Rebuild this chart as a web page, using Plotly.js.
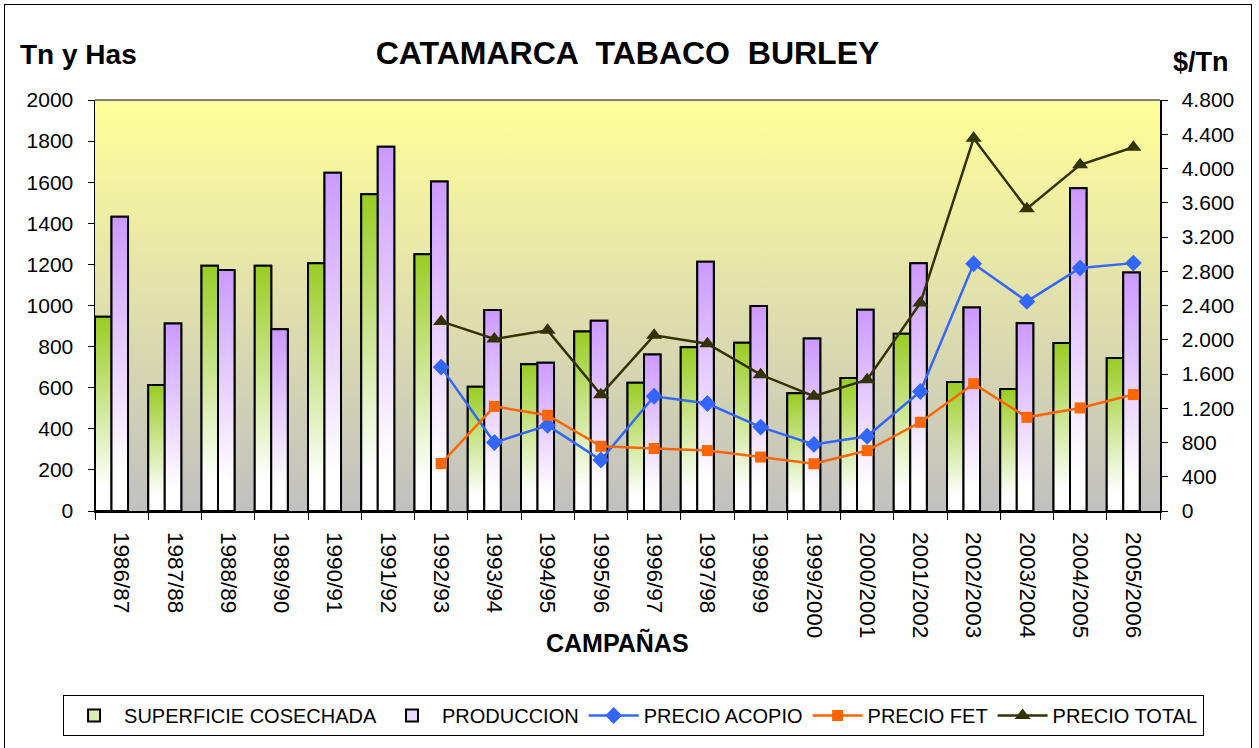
<!DOCTYPE html>
<html>
<head>
<meta charset="utf-8">
<script src="https://cdn.plot.ly/plotly-3.0.1.min.js"></script>
<style>
  html, body { margin: 0; padding: 0; background: #fff; }
  #wrap { position: relative; width: 1259px; height: 748px; overflow: hidden; }
  #chart { width: 1259px; height: 748px; }
  #frame { position: absolute; left: 4px; top: 4px; width: 1248px; height: 760px;
           border: 1px solid #000; box-sizing: border-box; pointer-events: none; }
</style>
</head>
<body>
<div id="wrap"><div id="chart"></div><div id="frame"></div></div>
<script>
// ---- data ----
const campanas = ["1986/87","1987/88","1988/89","1989/90","1990/91","1991/92","1992/93","1993/94",
  "1994/95","1995/96","1996/97","1997/98","1998/99","1999/2000","2000/2001","2001/2002",
  "2002/2003","2003/2004","2004/2005","2005/2006"];
const superficie = [945, 613, 1194, 1194, 1205, 1541, 1249, 605, 714, 873, 624, 797, 819, 573, 647, 862, 628, 594, 817, 744];
const produccion = [1432, 913, 1173, 884, 1646, 1773, 1603, 978, 722, 926, 762, 1213, 998, 839, 979, 1206, 990, 914, 1570, 1160];
const precioAcopio = [null, null, null, null, null, null, 1680, 800, 1000, 595, 1340, 1255, 980, 778, 873, 1395, 2887, 2448, 2838, 2895];
const precioFet    = [null, null, null, null, null, null, 555, 1222, 1118, 756, 730, 706, 630, 552, 706, 1036, 1487, 1094, 1204, 1360];
const precioTotal  = [null, null, null, null, null, null, 2214, 2009, 2110, 1359, 2052, 1954, 1592, 1340, 1534, 2429, 4353, 3530, 4043, 4248];

// ---- style ----
const FONT = "'Liberation Sans', Arial, sans-serif";
const idx = campanas.map((_, i) => i);
const GREEN = '#99cc22', PURPLE = '#cc99ff';
const barW = 0.31;
const offGreen = -0.5, offPurple = -0.19;

const traces = [];
traces.push({
  type: 'bar', name: 'SUPERFICIE COSECHADA', x: idx, y: superficie,
  width: barW, offset: offGreen, yaxis: 'y',
  marker: { color: '#d9eeb0', line: { color: '#000', width: 2 } }, hoverinfo: 'skip'
});
traces.push({
  type: 'bar', name: 'PRODUCCION', x: idx, y: produccion,
  width: barW, offset: offPurple, yaxis: 'y',
  marker: { color: '#ead9ff', line: { color: '#000', width: 2 } }, hoverinfo: 'skip'
});

// gradient fills for each bar (built from the same arrays)
function gradientBars(values, off, color) {
  values.forEach((v, i) => {
    const x0 = i + off, x1 = i + off + barW;
    traces.push({
      type: 'scatter', mode: 'lines', x: [x0, x1, x1, x0, x0], y: [0, 0, v, v, 0],
      fill: 'toself', showlegend: false, hoverinfo: 'skip', yaxis: 'y',
      line: { color: '#000', width: 2 },
      fillgradient: { type: 'vertical', colorscale: [[0, '#ffffff'], [0.12, '#ffffff'], [1, color]] }
    });
  });
}
gradientBars(superficie, offGreen, GREEN);
gradientBars(produccion, offPurple, PURPLE);

traces.push({
  type: 'scatter', mode: 'lines+markers', name: 'PRECIO ACOPIO', x: idx, y: precioAcopio, yaxis: 'y2',
  line: { color: '#3366ff', width: 2.5 }, marker: { symbol: 'diamond', size: 13, color: '#3366ff' }
});
traces.push({
  type: 'scatter', mode: 'lines+markers', name: 'PRECIO FET', x: idx, y: precioFet, yaxis: 'y2',
  line: { color: '#ff6600', width: 2.5 }, marker: { symbol: 'square', size: 11, color: '#ff6600' }
});
traces.push({
  type: 'scatter', mode: 'lines+markers', name: 'PRECIO TOTAL', x: idx, y: precioTotal, yaxis: 'y2',
  line: { color: '#333300', width: 2.5 }, marker: { symbol: 'triangle-up', size: 14, color: '#333300' }
});

const bgSvg = "<svg xmlns='http://www.w3.org/2000/svg' width='100' height='100' preserveAspectRatio='none'>" +
  "<defs><linearGradient id='g' x1='0' y1='0' x2='0' y2='1'>" +
  "<stop offset='0' stop-color='#ffff99'/><stop offset='1' stop-color='#c0c0c0'/></linearGradient></defs>" +
  "<rect width='100' height='100' fill='url(#g)'/></svg>";

const layout = {
  width: 1259, height: 748,
  margin: { l: 95, r: 99, t: 100, b: 237 },
  paper_bgcolor: '#ffffff', plot_bgcolor: 'rgba(0,0,0,0)',
  separators: ',.',
  font: { family: FONT, color: '#000', size: 18 },
  showlegend: true,
  barmode: 'overlay',
  title: { text: 'CATAMARCA  TABACO  BURLEY', font: { family: FONT, size: 32, color: '#000', weight: 'bold' },
           x: 0.5, xref: 'paper', xanchor: 'center', y: 1 - 53 / 748, yref: 'container', yanchor: 'middle' },
  xaxis: {
    range: [-0.5, 19.5], tickmode: 'array', tickvals: idx, ticktext: campanas,
    tickangle: 90, ticks: '', showgrid: false, zeroline: false,
    showline: true, linecolor: '#000', linewidth: 1.5,
    tickfont: { family: FONT, size: 22.5, color: '#000' },
    ticklabelstandoff: 15,
    minor: { tickmode: 'linear', tick0: -0.5, dtick: 1, ticks: 'outside', ticklen: 7, tickcolor: '#000', tickwidth: 1, showgrid: false }
  },
  yaxis: {
    range: [0, 2000], dtick: 200, tick0: 0, showgrid: false, zeroline: false,
    showline: true, linecolor: '#000', linewidth: 1.5,
    ticks: 'outside', ticklen: 6, tickcolor: '#000',
    tickfont: { family: FONT, size: 21, color: '#000' }, ticklabelstandoff: 10
  },
  yaxis2: {
    range: [0, 4800], dtick: 400, tick0: 0, overlaying: 'y', side: 'right',
    showgrid: false, zeroline: false, separatethousands: true,
    showline: true, linecolor: '#000', linewidth: 1.5,
    ticks: 'outside', ticklen: 6, tickcolor: '#000',
    tickfont: { family: FONT, size: 21, color: '#000' }, ticklabelstandoff: 10
  },
  legend: {
    orientation: 'h', x: -0.03, xanchor: 'left', y: -0.4477, yanchor: 'top',
    bgcolor: '#fff', bordercolor: '#000', borderwidth: 1,
    font: { family: FONT, size: 20, color: '#000' }, itemwidth: 50, traceorder: 'normal'
  },
  images: [{
    source: 'data:image/svg+xml;charset=utf-8,' + encodeURIComponent(bgSvg),
    xref: 'paper', yref: 'paper', x: 0, y: 1, sizex: 1, sizey: 1,
    sizing: 'stretch', layer: 'below', xanchor: 'left', yanchor: 'top'
  }],
  shapes: [{ type: 'line', xref: 'paper', yref: 'paper', x0: 0, x1: 1, y0: 1, y1: 1,
             line: { color: '#808080', width: 2 } }],
  annotations: [
    { text: '<b>Tn y Has</b>', xref: 'paper', yref: 'paper', x: -0.0723, y: 1.1095, xanchor: 'left', yanchor: 'middle',
      showarrow: false, font: { family: FONT, size: 28, color: '#000' } },
    { text: '<b>$/Tn</b>', xref: 'paper', yref: 'paper', x: 1.0101, y: 1.0925, xanchor: 'left', yanchor: 'middle',
      showarrow: false, font: { family: FONT, size: 27, color: '#000' } },
    { text: '<b>CAMPAÑAS</b>', xref: 'paper', yref: 'paper', x: 0.4906, y: -0.321, xanchor: 'center', yanchor: 'middle',
      showarrow: false, font: { family: FONT, size: 25, color: '#000' } }
  ]
};

Plotly.newPlot('chart', traces, layout, { displayModeBar: false, staticPlot: true });
</script>
</body>
</html>
